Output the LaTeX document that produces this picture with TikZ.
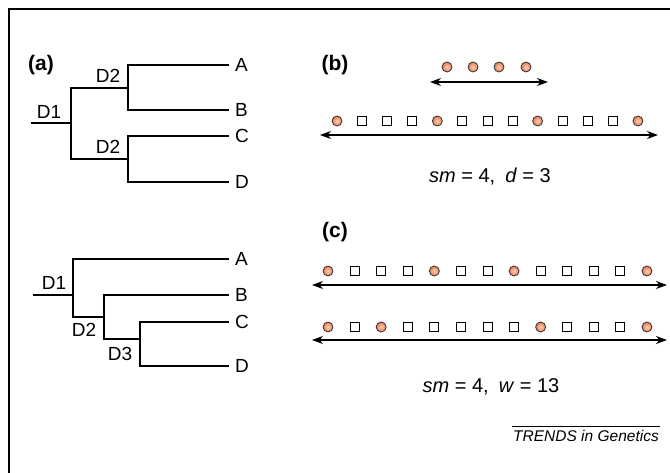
\documentclass[tikz,border=0pt]{standalone}
\usepackage{fontspec}
\setmainfont{Liberation Sans}
\usetikzlibrary{arrows.meta}
\definecolor{ballin}{RGB}{252,212,188}
\definecolor{ballout}{RGB}{230,120,80}
\begin{document}
\begin{tikzpicture}[x=1pt,y=-1pt,
  tree/.style={line width=1.4pt},
  lbl/.style={inner sep=0pt,font=\fontsize{19}{22}\selectfont},
  leaf/.style={lbl,anchor=west,inner xsep=6pt},
  panel/.style={inner sep=0pt,font=\fontsize{21}{24}\selectfont\bfseries},
  ball/.style={circle,inner sep=0pt,minimum size=10pt,draw=black!80,line width=0.8pt,inner color=ballin,outer color=ballout},
  sq/.style={rectangle,inner sep=0pt,minimum size=9pt,draw=black,line width=0.9pt,fill=white},
  dbl/.style={line width=1.1pt,{Stealth[length=11pt,width=8pt,inset=3.5pt]}-{Stealth[length=11pt,width=8pt,inset=3.5pt]}},
  formula/.style={inner sep=0pt,font=\fontsize{20}{24}\selectfont},
  credit/.style={inner sep=0pt,font=\fontsize{15.5}{18}\selectfont\itshape}
]
\useasboundingbox (0,0) rectangle (670,473);
% frame
\coordinate (fl) at (9,473);
\coordinate (fc) at (9,9);
\coordinate (fr) at (670,9);
\draw[line width=1.5pt] (fl) -- (fc) -- (fr);

% ---------- (a) tree 1 ----------
\node[panel] (pa) at (41,65) {(a)};
\node[leaf] (A1) at (229,65) {A};
\node[leaf] (B1) at (229,110) {B};
\node[leaf] (C1) at (229,136) {C};
\node[leaf] (D1l) at (229,182) {D};
\coordinate (u2) at (128,88);
\coordinate (l2) at (128,159);
\coordinate (r1) at (71,123);
\coordinate (s1) at (31,123);
\draw[tree] (A1.west) -| (u2) |- (B1.west);
\draw[tree] (C1.west) -| (l2) |- (D1l.west);
\draw[tree] (u2) -| (r1) |- (l2);
\draw[tree] (s1) -- (r1);
\node[lbl] (t1d1) at (49,112) {D1};
\node[lbl] (t1d2a) at (108,76) {D2};
\node[lbl] (t1d2b) at (108,147) {D2};

% ---------- tree 2 ----------
\node[leaf] (A2) at (229,259) {A};
\node[leaf] (B2) at (229,295) {B};
\node[leaf] (C2) at (229,322) {C};
\node[leaf] (D2l) at (229,366) {D};
\coordinate (r2) at (73,295);
\coordinate (s2) at (33,295);
\coordinate (m2) at (104,317);
\coordinate (m3) at (140,339);
\draw[tree] (C2.west) -| (m3) |- (D2l.west);
\draw[tree] (B2.west) -| (m2) |- (m3);
\draw[tree] (A2.west) -| (r2) |- (m2);
\draw[tree] (s2) -- (r2);
\node[lbl] (t2d1) at (54,283) {D1};
\node[lbl] (t2d2) at (84,330) {D2};
\node[lbl] (t2d3) at (120,354) {D3};

% ---------- (b) ----------
\node[panel] (pb) at (335,65) {(b)};
\foreach \i/\x in {1/447,2/473,3/499,4/526}
  \node[ball] (bt\i) at (\x,67) {};
\coordinate (btl) at (430,82);
\coordinate (btr) at (548,82);
\draw[dbl] (btl) -- (btr);
\foreach \k in {0,...,12}{
  \pgfmathsetmacro{\xx}{337+25.08*\k}
  \ifnum\k=0 \node[ball] (b\k) at (\xx,121) {};
  \else\ifnum\k=4 \node[ball] (b\k) at (\xx,121) {};
  \else\ifnum\k=8 \node[ball] (b\k) at (\xx,121) {};
  \else\ifnum\k=12 \node[ball] (b\k) at (\xx,121) {};
  \else \node[sq] (b\k) at (\xx,121) {};
  \fi\fi\fi\fi
}
\coordinate (bll) at (320,135);
\coordinate (blr) at (658,135);
\draw[dbl] (bll) -- (blr);
\node[formula] (fb) at (490,177) {\textit{sm} = 4,\enspace \textit{d} = 3};

% ---------- (c) ----------
\node[panel] (pc) at (335,232) {(c)};
\foreach \k in {0,...,12}{
  \pgfmathsetmacro{\xx}{328+26.58*\k}
  \ifnum\k=0 \node[ball] (c\k) at (\xx,271) {};
  \else\ifnum\k=4 \node[ball] (c\k) at (\xx,271) {};
  \else\ifnum\k=7 \node[ball] (c\k) at (\xx,271) {};
  \else\ifnum\k=12 \node[ball] (c\k) at (\xx,271) {};
  \else \node[sq] (c\k) at (\xx,271) {};
  \fi\fi\fi\fi
}
\coordinate (c1l) at (312,285);
\coordinate (c1r) at (667,285);
\draw[dbl] (c1l) -- (c1r);
\foreach \k in {0,...,12}{
  \pgfmathsetmacro{\xx}{328+26.58*\k}
  \ifnum\k=0 \node[ball] (d\k) at (\xx,327) {};
  \else\ifnum\k=2 \node[ball] (d\k) at (\xx,327) {};
  \else\ifnum\k=8 \node[ball] (d\k) at (\xx,327) {};
  \else\ifnum\k=12 \node[ball] (d\k) at (\xx,327) {};
  \else \node[sq] (d\k) at (\xx,327) {};
  \fi\fi\fi\fi
}
\coordinate (c2l) at (312,340);
\coordinate (c2r) at (667,340);
\draw[dbl] (c2l) -- (c2r);
\node[formula] (fc) at (491,387) {\textit{sm} = 4,\enspace \textit{w} = 13};

% ---------- credit ----------
\node[credit,anchor=east] (cr) at (659,436) {TRENDS in Genetics};
\coordinate (crl) at (512,426);
\coordinate (crr) at (660,426);
\draw[line width=0.8pt] (crl) -- (crr);
\end{tikzpicture}
\end{document}
